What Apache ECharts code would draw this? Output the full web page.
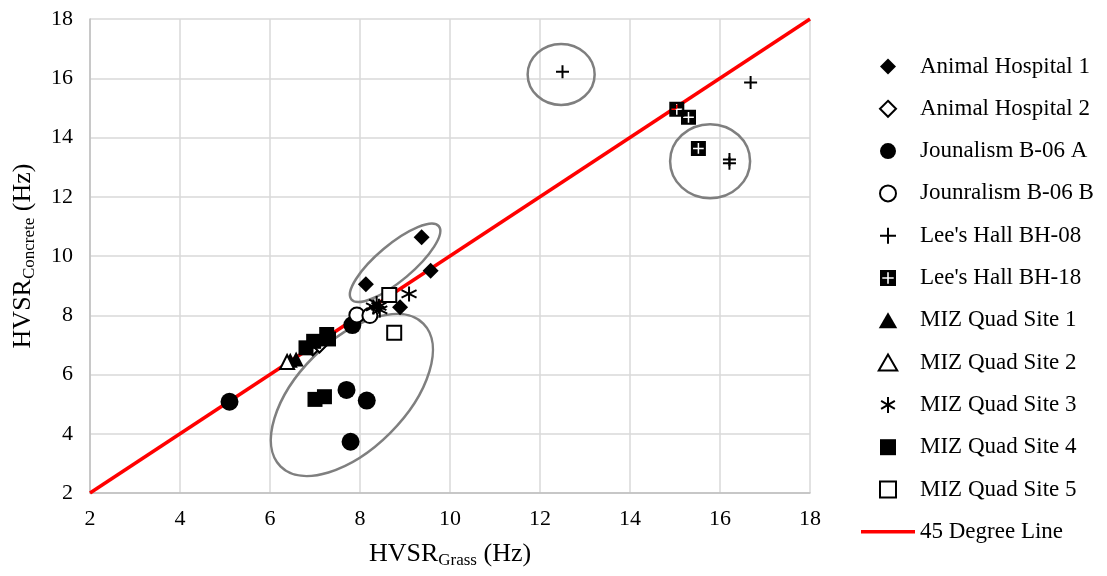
<!DOCTYPE html>
<html>
<head>
<meta charset="utf-8">
<script src="https://cdn.jsdelivr.net/npm/echarts@6/dist/echarts.min.js"></script>
<style>
  html, body { margin: 0; padding: 0; background: #fff; }
  #chart { width: 1107px; height: 576px; }
</style>
</head>
<body>
<div id="chart"></div>
<script>
// HVSR peak frequency measured on grass vs. on concrete, per site
const animalHospital1 = [[9.37, 10.63], [9.57, 9.50], [8.13, 9.05], [8.89, 8.27]];
const animalHospital2 = [[6.95, 6.88], [7.10, 6.98]];
const journalismA = [[5.10, 5.08], [7.83, 7.67], [7.70, 5.48], [8.15, 5.12], [7.79, 3.73]];
const journalismB = [[7.93, 8.01], [8.22, 7.99]];
const leesHall08 = [[12.50, 16.22], [16.68, 15.86], [16.21, 13.26], [16.21, 13.13]];
const leesHall18 = [[15.04, 14.95], [15.30, 14.68], [15.52, 13.63]];
const mizSite1 = [[6.45, 6.48], [6.58, 6.52]];
const mizSite2 = [[6.38, 6.42]];
const mizSite3 = [[8.37, 8.40], [8.44, 8.18], [8.42, 8.30], [8.30, 8.28], [9.09, 8.72]];
const mizSite4 = [[6.80, 6.90], [6.97, 7.12], [7.26, 7.35], [7.30, 7.20], [7.00, 5.16], [7.21, 5.25]];
const mizSite5 = [[8.65, 8.68], [8.76, 7.41]];
const lineX = [2, 18];
const axisTicks = [2, 4, 6, 8, 10, 12, 14, 16, 18];

// Grouping ellipses: centre in data units, radii in pixels, tilt in degrees
const groupCentres = [[12.47, 16.13], [15.78, 13.20], [8.78, 9.77], [7.82, 5.31]];
const groupRadii = [[33.5, 30.5], [40, 37], [57, 18], [101, 54]];
const groupTilt = [0, 0, 40, 45];

const serif = '"Liberation Serif", "Times New Roman", serif';

// Marker outlines as paths so legend icons keep their proportions
const P_DIAMOND = 'path://M5,0L10,5L5,10L0,5Z';
const P_TRIANGLE = 'path://M5,0L10,8.66L0,8.66Z';
const P_SQUARE = 'path://M0,0L10,0L10,10L0,10Z';
const P_PLUS = 'path://M0,5L10,5M5,0L5,10';
const P_STAR = 'path://M5,0L5,10M0.7,2.5L9.3,7.5M0.7,7.5L9.3,2.5';
const P_BOXPLUS = 'path://M0,0L14,0L14,14L0,14Z M6.3,2L6.3,6.3L2,6.3L2,7.7L6.3,7.7L6.3,12L7.7,12L7.7,7.7L12,7.7L12,6.3L7.7,6.3L7.7,2Z';
const P_LINEICON = 'path://M0,0L54,0L54,3.5L0,3.5Z';

const filled = { color: '#000', borderColor: '#000', borderWidth: 0, opacity: 1 };
const hollow = { color: '#fff', borderColor: '#000', borderWidth: 2, opacity: 1 };
const stroked = { color: 'none', borderColor: '#000', borderWidth: 2, opacity: 1 };

function scatter(name, data, symbol, size, style) {
  return { name, type: 'scatter', data, symbol, symbolSize: size, itemStyle: style, z: 3 };
}

const series = [
  scatter('Animal Hospital 1', animalHospital1, P_DIAMOND, 16, filled),
  scatter('Animal Hospital 2', animalHospital2, P_DIAMOND, 14, hollow),
  scatter('Jounalism B-06 A', journalismA, 'circle', 18, filled),
  scatter('Jounralism B-06 B', journalismB, 'circle', 15, hollow),
  scatter('Lee\'s Hall BH-08', leesHall08, P_PLUS, 13, stroked),
  scatter('Lee\'s Hall BH-18', leesHall18, P_BOXPLUS, 15, filled),
  scatter('MIZ Quad Site 1', mizSite1, P_TRIANGLE, 15, filled),
  scatter('MIZ Quad Site 2', mizSite2, P_TRIANGLE, 14, hollow),
  scatter('MIZ Quad Site 3', mizSite3, P_STAR, 15, stroked),
  scatter('MIZ Quad Site 4', mizSite4, P_SQUARE, 15, filled),
  scatter('MIZ Quad Site 5', mizSite5, P_SQUARE, 14, hollow),
  {
    name: '45 Degree Line', type: 'line', symbol: 'none', z: 2,
    data: lineX.map(v => [v, v]),
    lineStyle: { color: '#ff0000', width: 3.5 },
    itemStyle: { color: '#ff0000' }
  }
];

const axisCommon = {
  type: 'value', min: 2, max: 18, interval: 2,
  axisLine: { show: true, lineStyle: { color: '#bfbfbf', width: 1.5 } },
  axisTick: { show: false },
  splitLine: { show: true, lineStyle: { color: '#d9d9d9', width: 1.5 } },
  axisLabel: { color: '#000', fontFamily: serif, fontSize: 22,
    formatter: v => axisTicks.includes(v) ? String(v) : '' },
  nameLocation: 'middle'
};

const nameRich = {
  m: { fontFamily: serif, fontSize: 26, color: '#000', lineHeight: 30 },
  s: { fontFamily: serif, fontSize: 17, color: '#000', lineHeight: 17, verticalAlign: 'bottom', padding: [11, 0, 0, 0] }
};

const legendNames = series.map(s => s.name === '45 Degree Line'
  ? { name: s.name, icon: P_LINEICON, itemStyle: { color: '#ff0000', borderWidth: 0 } }
  : s.name);

const chart = echarts.init(document.getElementById('chart'), null, { renderer: 'canvas' });
chart.setOption({
  animation: false,
  backgroundColor: '#fff',
  grid: { left: 90, right: 297, top: 19, bottom: 83, containLabel: false },
  xAxis: Object.assign({}, axisCommon, {
    name: '{m|HVSR}{s|Grass}{m| (Hz)}', nameGap: 46,
    nameTextStyle: { rich: nameRich },
    axisLabel: Object.assign({}, axisCommon.axisLabel, { margin: 15 })
  }),
  yAxis: Object.assign({}, axisCommon, {
    name: '{m|HVSR}{s|Concrete}{m| (Hz)}', nameGap: 52,
    nameTextStyle: { rich: nameRich },
    axisLabel: Object.assign({}, axisCommon.axisLabel, { margin: 17 })
  }),
  legend: {
    orient: 'vertical', left: 856, top: 50,
    itemWidth: 54, itemHeight: 16, itemGap: 19.3,
    symbolKeepAspect: true,
    textStyle: { fontFamily: serif, fontSize: 23, color: '#000', lineHeight: 23 },
    data: legendNames
  },
  series
});

// Grouping ellipses positioned through the axes' own scales
function drawGroups() {
  const elements = groupCentres.map((c, i) => {
    const p = chart.convertToPixel({ gridIndex: 0 }, c);
    return {
      type: 'ellipse',
      x: p[0], y: p[1],
      rotation: groupTilt[i] * Math.PI / 180,
      shape: { cx: 0, cy: 0, rx: groupRadii[i][0], ry: groupRadii[i][1] },
      style: { fill: 'none', stroke: '#7f7f7f', lineWidth: 2.5 },
      z: 1
    };
  });
  chart.setOption({ graphic: elements });
}
drawGroups();
</script>
</body>
</html>
